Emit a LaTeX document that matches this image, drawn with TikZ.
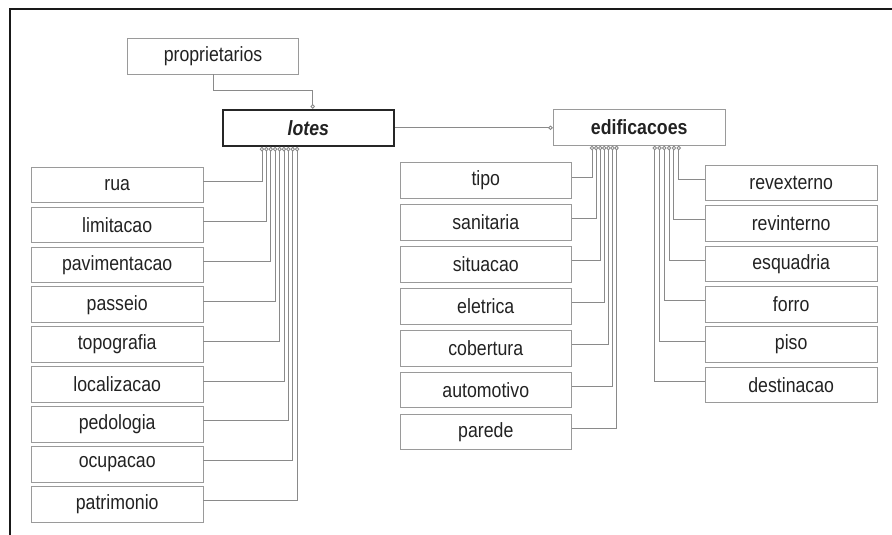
\documentclass[tikz,border=0pt]{standalone}
\usepackage{fontspec}
\newfontfamily\boxfont[FakeStretch=0.86]{Liberation Sans}
\usepackage{tikz}
\usetikzlibrary{arrows.meta,positioning}
\definecolor{boxgray}{HTML}{9A9A9A}
\definecolor{linkgray}{HTML}{8A8A8A}
\definecolor{inkgray}{HTML}{222222}

\begin{document}
\begin{tikzpicture}[x=1pt, y=-1pt, node distance=3.3pt,
                    attr node/.style={draw=boxgray, line width=0.9pt, text=inkgray,
                      minimum width=171.5pt, minimum height=35.7pt, inner sep=0pt,
                      font=\boxfont\fontsize{20.6}{24}\selectfont},
                    main node/.style={attr node, draw=black!85, line width=2pt,
                      font=\boxfont\fontsize{20.6}{24}\selectfont\bfseries\itshape},
                    ent node/.style={attr node,
                      font=\boxfont\fontsize{20.6}{24}\selectfont\bfseries},
                    link/.style={draw=linkgray, line width=0.9pt,
                      -{Diamond[open,length=5pt,width=4.6pt]}}]

  \useasboundingbox (0,0) rectangle (892,535);
  \draw[line width=2pt, black!90] (10,535) -- (10,9) -- (892,9);

  \node[attr node] (proprietarios) at (213,56.2) {proprietarios};
  \node[main node] (lotes) at (308.3,127.8) {lotes};
  \node[ent node] (edificacoes) at (639.2,127.2) {edificacoes};

  % atributos de lotes
  \node[attr node] (rua) at (117.2,185) {rua};
  \node[attr node] (limitacao) [below=of rua] {limitacao};
  \node[attr node] (pavimentacao) [below=of limitacao] {pavimentacao};
  \node[attr node] (passeio) [below=of pavimentacao] {passeio};
  \node[attr node] (topografia) [below=of passeio] {topografia};
  \node[attr node] (localizacao) [below=of topografia] {localizacao};
  \node[attr node] (pedologia) [below=of localizacao] {pedologia};
  \node[attr node] (ocupacao) [below=of pedologia] {ocupacao};
  \node[attr node] (patrimonio) [below=of ocupacao] {patrimonio};

  % atributos de edificacoes
  \node[attr node] (tipo) at (485.8,180.5) {tipo};
  \node[attr node] (sanitaria) [below=5.3pt of tipo] {sanitaria};
  \node[attr node] (situacao) [below=5.3pt of sanitaria] {situacao};
  \node[attr node] (eletrica) [below=5.3pt of situacao] {eletrica};
  \node[attr node] (cobertura) [below=5.3pt of eletrica] {cobertura};
  \node[attr node] (automotivo) [below=5.3pt of cobertura] {automotivo};
  \node[attr node] (parede) [below=5.3pt of automotivo] {parede};

  \node[attr node] (revexterno) at (791.2,183) {revexterno};
  \node[attr node] (revinterno) [below=3.8pt of revexterno] {revinterno};
  \node[attr node] (esquadria) [below=3.8pt of revinterno] {esquadria};
  \node[attr node] (forro) [below=3.8pt of esquadria] {forro};
  \node[attr node] (piso) [below=3.8pt of forro] {piso};
  \node[attr node] (destinacao) [below=3.8pt of piso] {destinacao};

  \draw[link] (proprietarios.south) |- ([xshift=4.4pt,yshift=18pt]lotes.north)
    -- ([xshift=4.4pt]lotes.north);
  \draw[link] (lotes.east) -- (lotes.east -| edificacoes.west);

  \draw[link] ([yshift=3.5pt]rua.east) -| ([xshift=40.4pt]lotes.south west);
  \draw[link] ([yshift=3.5pt]limitacao.east) -| ([xshift=44.8pt]lotes.south west);
  \draw[link] ([yshift=3.5pt]pavimentacao.east) -| ([xshift=49.2pt]lotes.south west);
  \draw[link] ([yshift=3.5pt]passeio.east) -| ([xshift=53.6pt]lotes.south west);
  \draw[link] ([yshift=3.5pt]topografia.east) -| ([xshift=58pt]lotes.south west);
  \draw[link] ([yshift=3.5pt]localizacao.east) -| ([xshift=62.4pt]lotes.south west);
  \draw[link] ([yshift=3.5pt]pedologia.east) -| ([xshift=66.8pt]lotes.south west);
  \draw[link] ([yshift=3.5pt]ocupacao.east) -| ([xshift=71.2pt]lotes.south west);
  \draw[link] ([yshift=3.5pt]patrimonio.east) -| ([xshift=75.6pt]lotes.south west);

  \draw[link] ([yshift=3.5pt]tipo.east) -| ([xshift=39pt]edificacoes.south west);
  \draw[link] ([yshift=3.5pt]sanitaria.east) -| ([xshift=43.1pt]edificacoes.south west);
  \draw[link] ([yshift=3.5pt]situacao.east) -| ([xshift=47.2pt]edificacoes.south west);
  \draw[link] ([yshift=3.5pt]eletrica.east) -| ([xshift=51.3pt]edificacoes.south west);
  \draw[link] ([yshift=3.5pt]cobertura.east) -| ([xshift=55.4pt]edificacoes.south west);
  \draw[link] ([yshift=3.5pt]automotivo.east) -| ([xshift=59.5pt]edificacoes.south west);
  \draw[link] ([yshift=3.5pt]parede.east) -| ([xshift=63.6pt]edificacoes.south west);

  \draw[link] ([yshift=3.5pt]revexterno.west) -| ([xshift=125.7pt]edificacoes.south west);
  \draw[link] ([yshift=3.5pt]revinterno.west) -| ([xshift=120.9pt]edificacoes.south west);
  \draw[link] ([yshift=3.5pt]esquadria.west) -| ([xshift=116.1pt]edificacoes.south west);
  \draw[link] ([yshift=3.5pt]forro.west) -| ([xshift=111.3pt]edificacoes.south west);
  \draw[link] ([yshift=3.5pt]piso.west) -| ([xshift=106.5pt]edificacoes.south west);
  \draw[link] ([yshift=3.5pt]destinacao.west) -| ([xshift=101.7pt]edificacoes.south west);
\end{tikzpicture}
\end{document}
